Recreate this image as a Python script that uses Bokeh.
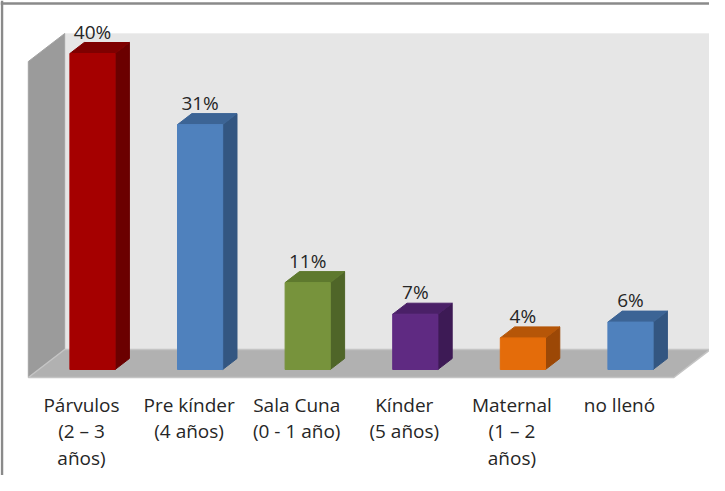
from bokeh.plotting import figure
from bokeh.models import Range1d, Span
from bokeh.embed import file_html
from bokeh.resources import INLINE
from bokeh.core.properties import value

# ---------------- data ----------------
categories = ["Párvulos\n(2 – 3\naños)", "Pre kínder\n(4 años)", "Sala Cuna\n(0 - 1 año)",
              "Kínder\n(5 años)", "Maternal\n(1 – 2\naños)", "no llenó"]
values = [40, 31, 11, 7, 4, 6]
labels = ["40%", "31%", "11%", "7%", "4%", "6%"]
axis_max = 40

front_colors = ["#a50000", "#4f81bd", "#77933c", "#5f2a82", "#e46c0a", "#4f81bd"]
top_colors = ["#7e0000", "#3c6495", "#5e792e", "#4a2067", "#b65608", "#3c6495"]
side_colors = ["#6b0000", "#335681", "#4f6528", "#3d1a55", "#9c4806", "#335681"]

# ---------------- geometry / style ----------------
W, H = 709, 475
PX_X = 107.6      # px per category
PX_Y = 7.9        # px per percent
X0 = 92           # canvas px of first category
Y0 = 369          # canvas px (from top) of value 0
RATIO = 1.3       # horizontal shift per vertical shift of depth
FONT = "Open Sans"

x_start = -X0 / PX_X
x_end = x_start + W / PX_X
y_start = -(H - Y0) / PX_Y
y_end = y_start + H / PX_Y


def dxy(d):
    return d * RATIO / PX_X, d / PX_Y


p = figure(width=W, height=H, output_backend="svg", toolbar_location=None,
           x_range=Range1d(x_start, x_end), y_range=Range1d(y_start, y_end),
           min_border=0, background_fill_color="white", border_fill_color="white")
p.outline_line_color = None
p.xaxis.visible = False
p.yaxis.visible = False
p.xgrid.visible = False
p.ygrid.visible = False

n = len(values)
xl, xr = -0.5, n - 0.5
fdx, fdy = dxy(-8)
bdx, bdy = dxy(20)

# back wall
p.patch([xl + bdx, xr + bdx, xr + bdx, xl + bdx],
        [bdy, bdy, axis_max + bdy, axis_max + bdy],
        fill_color="#e6e6e6", line_color="#eeeeee", line_width=1)
# side wall
p.patch([xl + fdx, xl + bdx, xl + bdx, xl + fdx],
        [fdy, bdy, axis_max + bdy, axis_max + fdy],
        fill_color="#9b9b9b", line_color="#a3a3a3", line_width=1)
# floor
p.patch([xl + fdx, xr + fdx, xr + bdx, xl + bdx],
        [fdy, fdy, bdy, bdy],
        fill_color="#b1b1b1", line_color="#c4c4c4", line_width=1.5)

# bars
bw = 0.42
cdx, cdy = dxy(11)
idx = list(range(n))
side_xs, side_ys, top_xs, top_ys = [], [], [], []
for i, v in zip(idx, values):
    r = i + bw / 2
    l = i - bw / 2
    side_xs.append([r, r + cdx, r + cdx, r])
    side_ys.append([0, cdy, v + cdy, v])
    top_xs.append([l, r, r + cdx, l + cdx])
    top_ys.append([v, v, v + cdy, v + cdy])

p.patches(side_xs, side_ys, fill_color=side_colors, line_color=side_colors, line_width=1)
p.patches(top_xs, top_ys, fill_color=top_colors, line_color=top_colors, line_width=1)
p.vbar(x=idx, width=bw, bottom=0, top=values, fill_color=front_colors,
       line_color=front_colors, line_width=1)

# value labels
p.text(x=idx, y=values, text=labels, y_offset=-22, text_align="center",
       text_baseline="alphabetic", text_font=value(FONT), text_font_size="19px",
       text_color="#262626")

# category labels (line by line)
split = [c.split("\n") for c in categories]
max_lines = max(len(s) for s in split)
for k in range(max_lines):
    xs = [i for i, s in zip(idx, split) if len(s) > k]
    ts = [s[k] for s in split if len(s) > k]
    p.text(x=xs, y=[0] * len(xs), text=ts, x_offset=-11, y_offset=35 + 26.5 * k,
           text_align="center", text_baseline="alphabetic", text_font=value(FONT),
           text_font_size="19px", text_color="#262626")

# chart-area border (left and top)
p.add_layout(Span(location=x_start + 1.5 / PX_X, dimension="height",
                  line_color="#8a8a8a", line_width=2.5))
p.add_layout(Span(location=y_end - 3 / PX_Y, dimension="width",
                  line_color="#8a8a8a", line_width=2.5))

open("out.html", "w").write(file_html(p, INLINE))
